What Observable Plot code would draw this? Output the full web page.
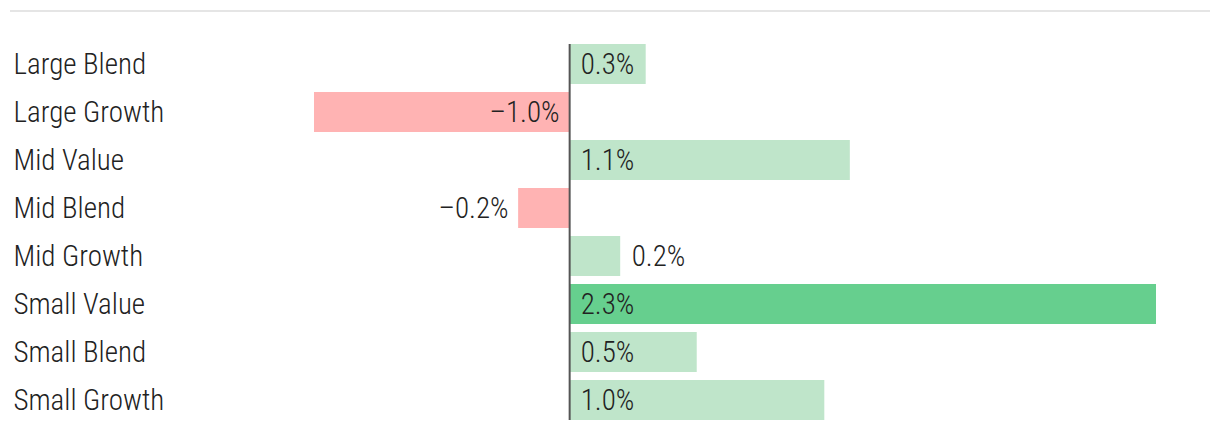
<!DOCTYPE html>
<html>
<head>
<meta charset="utf-8">
<script src="https://cdn.jsdelivr.net/npm/d3@7"></script>
<script src="https://cdn.jsdelivr.net/npm/@observablehq/plot@0.6"></script>
<style>
  html, body { margin: 0; padding: 0; background: #fff; }
  #rule { margin: 10px 10px 0 10px; border-top: 2px solid #e5e5e5; height: 0; }
  #chart svg { display: block; }
</style>
</head>
<body>
<div id="rule"></div>
<div id="chart"></div>
<script>
const categories = ["Large Blend", "Large Growth", "Mid Value", "Mid Blend", "Mid Growth", "Small Value", "Small Blend", "Small Growth"];
const values = [0.3, -1.0, 1.1, -0.2, 0.2, 2.3, 0.5, 1.0];

const data = categories.map((name, i) => ({name, value: values[i]}));
const maxVal = d3.max(values);
const fmt = v => (v < 0 ? "\u2013" : "") + Math.abs(v).toFixed(1) + "%";
const fits = d => Math.abs(d.value) >= 0.3;
const font = "'Roboto Condensed', 'DejaVu Sans Condensed', 'Roboto', sans-serif";
const fs = 29;

const chart = Plot.plot({
  width: 1220,
  height: 418,
  marginLeft: 314,
  marginRight: 64,
  marginTop: 28,
  marginBottom: 6,
  style: {fontFamily: font, fontSize: fs + "px", fontWeight: 300, background: "#fff", overflow: "visible"},
  x: {domain: [-1.0, 2.3], axis: null},
  y: {domain: categories, axis: null, paddingInner: 1/6, paddingOuter: 1/12},
  marks: [
    Plot.barX(data, {
      x: "value", y: "name",
      fill: d => d.value < 0 ? "#ffb3b3" : (d.value === maxVal ? "#66cf8e" : "#bfe5ca")
    }),
    Plot.ruleX([0], {stroke: "#555", strokeWidth: 2, insetTop: 4, insetBottom: 4}),
    Plot.text(data, {
      y: "name", text: "name", frameAnchor: "left", textAnchor: "start",
      dx: 13 - 314, fill: "#222", fontSize: fs, fontWeight: 300
    }),
    Plot.text(data.filter(d => d.value >= 0), {
      y: "name", x: d => fits(d) ? 0 : d.value, text: d => fmt(d.value),
      textAnchor: "start", dx: 11, fill: "#222", fontSize: fs, fontWeight: 300
    }),
    Plot.text(data.filter(d => d.value < 0), {
      y: "name", x: d => fits(d) ? 0 : d.value, text: d => fmt(d.value),
      textAnchor: "end", dx: -10, fill: "#222", fontSize: fs, fontWeight: 300
    })
  ]
});
document.getElementById("chart").appendChild(chart);
</script>
</body>
</html>
